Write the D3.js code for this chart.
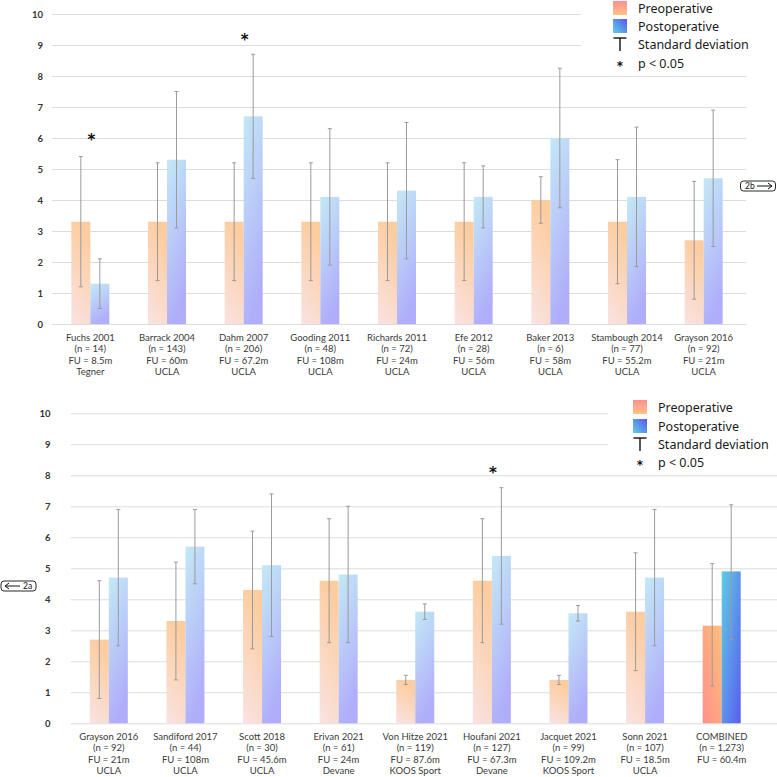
<!DOCTYPE html>
<html>
<head>
<meta charset="utf-8">
<script src="https://cdn.jsdelivr.net/npm/d3@7"></script>
<style>
  body { margin: 0; background: #fff; }
  svg { display: block; }
</style>
</head>
<body>
<div id="chart"></div>
<script>
// ---- panel 2a (top) ----
var topStudy = ["Fuchs 2001", "Barrack 2004", "Dahm 2007", "Gooding 2011", "Richards 2011",
    "Efe 2012", "Baker 2013", "Stambough 2014", "Grayson 2016"];
var topN = ["(n = 14)", "(n = 143)", "(n = 206)", "(n = 48)", "(n = 72)", "(n = 28)", "(n = 6)", "(n = 77)", "(n = 92)"];
var topFU = ["FU = 8.5m", "FU = 60m", "FU = 67.2m", "FU =  108m", "FU = 24m", "FU = 56m", "FU = 58m", "FU = 55.2m", "FU = 21m"];
var topScale = ["Tegner", "UCLA", "UCLA", "UCLA", "UCLA", "UCLA", "UCLA", "UCLA", "UCLA"];
var topPre = [3.3, 3.3, 3.3, 3.3, 3.3, 3.3, 4.0, 3.3, 2.7];
var topPreLo = [1.2, 1.4, 1.4, 1.4, 1.4, 1.4, 3.25, 1.3, 0.8];
var topPreHi = [5.4, 5.2, 5.2, 5.2, 5.2, 5.2, 4.75, 5.3, 4.6];
var topPost = [1.3, 5.3, 6.7, 4.1, 4.3, 4.1, 6.0, 4.1, 4.7];
var topPostLo = [0.5, 3.1, 4.7, 1.9, 2.1, 3.1, 3.75, 1.85, 2.5];
var topPostHi = [2.1, 7.5, 8.7, 6.3, 6.5, 5.1, 8.25, 6.35, 6.9];
var topStarStudy = ["Fuchs 2001", "Dahm 2007"];
var topStarY = [6.07, 9.3];

// ---- panel 2b (bottom) ----
var botStudy = ["Grayson 2016", "Sandiford 2017", "Scott 2018", "Erivan 2021", "Von Hitze 2021",
    "Houfani 2021", "Jacquet 2021", "Sonn 2021", "COMBINED"];
var botN = ["(n = 92)", "(n = 44)", "(n = 30)", "(n = 61)", "(n = 119)", "(n = 127)", "(n = 99)", "(n = 107)", "(n = 1,273)"];
var botFU = ["FU = 21m", "FU = 108m", "FU = 45.6m", "FU = 24m", "FU = 87.6m", "FU = 67.3m", "FU = 109.2m", "FU = 18.5m", "FU = 60.4m"];
var botScale = ["UCLA", "UCLA", "UCLA", "Devane", "KOOS Sport", "Devane", "KOOS Sport", "UCLA", ""];
var botPre = [2.7, 3.3, 4.3, 4.6, 1.4, 4.6, 1.4, 3.6, 3.15];
var botPreLo = [0.8, 1.4, 2.4, 2.6, 1.25, 2.6, 1.25, 1.7, 1.2];
var botPreHi = [4.6, 5.2, 6.2, 6.6, 1.55, 6.6, 1.55, 5.5, 5.15];
var botPost = [4.7, 5.7, 5.1, 4.8, 3.6, 5.4, 3.55, 4.7, 4.9];
var botPostLo = [2.5, 4.5, 2.8, 2.6, 3.35, 3.2, 3.3, 2.5, 2.7];
var botPostHi = [6.9, 6.9, 7.4, 7.0, 3.85, 7.6, 3.8, 6.9, 7.05];
var botStarStudy = ["Houfani 2021"];
var botStarY = [8.2];

var legendLabels = ["Preoperative", "Postoperative", "Standard deviation", "p < 0.05"];
var yTicks = [0, 1, 2, 3, 4, 5, 6, 7, 8, 9, 10];

var svg = d3.select("#chart")
    .append("svg")
    .attr("width", 777)
    .attr("height", 777);

var defs = svg.append("defs");

// gradient helper
function grad(id, x1, y1, x2, y2, c1, c2) {
    var lg = defs.append("linearGradient")
        .attr("id", id)
        .attr("x1", x1).attr("y1", y1)
        .attr("x2", x2).attr("y2", y2);
    lg.append("stop").attr("offset", "0%").attr("stop-color", c1);
    lg.append("stop").attr("offset", "100%").attr("stop-color", c2);
}
grad("preLight", 0, 1, 0.3, 0, "#f9e3e3", "#fdcda0");
grad("postLight", 0.3, 1, 0, 0, "#b0aefa", "#c3e9f6");
grad("preSolid", 0, 1, 1, 0, "#ff8f8a", "#ffc07a");
grad("postSolid", 1, 1, 0, 0, "#5a5cf0", "#5ecde6");
grad("preKey", 0, 0, 0, 1, "#ff8e92", "#ffc487");
grad("postKey", 1, 0, 0, 1, "#5854f0", "#5fd2e6");

function drawPanel(p) {
    var y = d3.scaleLinear().domain([0, 10]).range([p.yBottom, p.yTop]);
    var x0 = d3.scaleBand().domain(p.study).range([p.xLeft, p.xRight]);
    var half = x0.bandwidth() / 2;
    var x1 = d3.scaleBand().domain(["pre", "post"]).range([half - 19, half + 19]);

    var g = svg.append("g");

    // gridlines
    g.selectAll(".grid")
        .data(yTicks)
        .enter()
        .append("line")
        .attr("x1", p.xLeft)
        .attr("x2", p.gridRight)
        .attr("y1", d => y(d) + 0.5)
        .attr("y2", d => y(d) + 0.5)
        .attr("stroke", "#dcdcdc")
        .attr("stroke-width", 1);

    // y axis labels
    var leftAxis = d3.axisLeft(y).tickValues(yTicks).tickSize(0).tickPadding(p.tickPad);
    var yAxis = g.append("g")
        .attr("transform", `translate(${p.xLeft}, 0)`)
        .call(leftAxis);
    yAxis.select(".domain").remove();
    yAxis.selectAll("text")
        .attr("font-family", "Lato, sans-serif")
        .attr("font-weight", "bold")
        .attr("font-size", 9.5)
        .attr("fill", "#333");

    var rows = p.study.map((s, i) => ({
        study: s,
        bars: [
            { key: "pre", v: p.pre[i], lo: p.preLo[i], hi: p.preHi[i], solid: s === "COMBINED" },
            { key: "post", v: p.post[i], lo: p.postLo[i], hi: p.postHi[i], solid: s === "COMBINED" }
        ]
    }));

    var groups = g.selectAll(".study")
        .data(rows)
        .enter()
        .append("g")
        .attr("transform", d => `translate(${x0(d.study)}, 0)`);

    groups.selectAll("rect")
        .data(d => d.bars)
        .enter()
        .append("rect")
        .attr("x", d => x1(d.key))
        .attr("width", x1.bandwidth())
        .attr("y", d => y(d.v))
        .attr("height", d => y(0) - y(d.v))
        .attr("fill", d => "url(#" + d.key + (d.solid ? "Solid" : "Light") + ")");

    // standard deviation whiskers
    var err = groups.selectAll(".err")
        .data(d => d.bars)
        .enter()
        .append("g")
        .attr("stroke", "#9a9a9a")
        .attr("stroke-width", 1);
    var cx = d => x1(d.key) + x1.bandwidth() / 2;
    err.append("line")
        .attr("x1", cx).attr("x2", cx)
        .attr("y1", d => y(d.hi)).attr("y2", d => y(d.lo));
    err.append("line")
        .attr("x1", d => cx(d) - 2).attr("x2", d => cx(d) + 2)
        .attr("y1", d => y(d.hi)).attr("y2", d => y(d.hi));
    err.append("line")
        .attr("x1", d => cx(d) - 2).attr("x2", d => cx(d) + 2)
        .attr("y1", d => y(d.lo)).attr("y2", d => y(d.lo));

    // significance stars
    g.selectAll(".star")
        .data(p.starStudy)
        .enter()
        .append("text")
        .attr("x", (d, i) => x0(d) + half + 1)
        .attr("y", (d, i) => y(p.starY[i]) + 9)
        .attr("text-anchor", "middle")
        .attr("font-family", "DejaVu Sans, sans-serif")
        .attr("font-weight", "bold")
        .attr("font-size", 15)
        .attr("fill", "#111")
        .text("*");

    // x category labels
    var lab = g.selectAll(".xlab")
        .data(p.study)
        .enter()
        .append("text")
        .attr("x", d => x0(d) + half)
        .attr("text-anchor", "middle")
        .attr("font-family", "Lato, sans-serif")
        .attr("font-size", 9.5)
        .attr("fill", "#3a3a3a");
    [p.study, p.n, p.fu, p.scale].forEach((arr, k) => {
        lab.append("tspan")
            .attr("x", d => x0(d) + half)
            .attr("y", p.labelY[k])
            .text((d, i) => arr[i]);
    });

    // legend (white backing hides grid)
    var leg = g.append("g");
    leg.append("rect")
        .attr("x", p.legMaskX).attr("y", p.legMaskY)
        .attr("width", 777 - p.legMaskX).attr("height", p.legMaskH)
        .attr("fill", "#fff");
    var sx = p.legX, tx = p.legTextX, ly = p.legY;
    leg.append("rect").attr("x", sx).attr("y", ly[0] - 7).attr("width", 14).attr("height", 14).attr("fill", "url(#preKey)");
    leg.append("rect").attr("x", sx).attr("y", ly[1] - 7).attr("width", 14).attr("height", 14).attr("fill", "url(#postKey)");
    leg.append("line").attr("x1", sx + 0.5).attr("x2", sx + 13.5).attr("y1", ly[2] - 6).attr("y2", ly[2] - 6)
        .attr("stroke", "#111").attr("stroke-width", 1.4);
    leg.append("line").attr("x1", sx + 7).attr("x2", sx + 7).attr("y1", ly[2] - 6).attr("y2", ly[2] + 7)
        .attr("stroke", "#111").attr("stroke-width", 1.4);
    leg.append("text").attr("x", sx + 7).attr("y", ly[3] + 7)
        .attr("text-anchor", "middle")
        .attr("font-family", "DejaVu Sans, sans-serif").attr("font-weight", "bold")
        .attr("font-size", 12).attr("fill", "#111").text("*");
    leg.selectAll(".ltxt")
        .data(legendLabels)
        .enter()
        .append("text")
        .attr("x", tx)
        .attr("y", (d, i) => ly[i] + 4.5)
        .attr("font-family", "Noto Sans, sans-serif")
        .attr("font-size", 12.5)
        .attr("fill", "#1a1a1a")
        .text(d => d);

    // panel cross-reference tag
    var tag = svg.append("g");
    tag.append("rect")
        .attr("x", p.tag.x).attr("y", p.tag.y)
        .attr("width", 35).attr("height", 10).attr("rx", 3)
        .attr("fill", "#fff").attr("stroke", "#111").attr("stroke-width", 0.9);
    var ay = p.tag.y + 5;
    var ax1 = p.tag.arrowX1, ax2 = p.tag.arrowX2, dir = ax2 > ax1 ? 1 : -1;
    tag.append("line").attr("x1", ax1).attr("x2", ax2).attr("y1", ay).attr("y2", ay)
        .attr("stroke", "#111").attr("stroke-width", 1);
    tag.append("path")
        .attr("d", `M${ax2 - dir * 4},${ay - 3} L${ax2},${ay} L${ax2 - dir * 4},${ay + 3}`)
        .attr("fill", "none").attr("stroke", "#111").attr("stroke-width", 1);
    tag.append("text")
        .attr("x", p.tag.textX).attr("y", ay + 3)
        .attr("font-family", "Lato, sans-serif").attr("font-size", 8.5).attr("fill", "#111")
        .text(p.tag.label);
}

drawPanel({
    study: topStudy, n: topN, fu: topFU, scale: topScale,
    pre: topPre, preLo: topPreLo, preHi: topPreHi,
    post: topPost, postLo: topPostLo, postHi: topPostHi,
    starStudy: topStarStudy, starY: topStarY,
    yBottom: 324, yTop: 14, xLeft: 52, xRight: 742, gridRight: 746, tickPad: 9,
    labelY: [340.5, 352, 363.5, 375],
    legX: 613, legTextX: 638, legY: [8, 26, 44, 63], legMaskX: 581, legMaskY: 0, legMaskH: 70,
    tag: { x: 740.5, y: 181, label: "2b", textX: 745, arrowX1: 757, arrowX2: 772 }
});

drawPanel({
    study: botStudy, n: botN, fu: botFU, scale: botScale,
    pre: botPre, preLo: botPreLo, preHi: botPreHi,
    post: botPost, postLo: botPostLo, postHi: botPostHi,
    starStudy: botStarStudy, starY: botStarY,
    yBottom: 723.3, yTop: 413.3, xLeft: 70.5, xRight: 760, gridRight: 777, tickPad: 20,
    labelY: [739.5, 751, 762.5, 774],
    legX: 633, legTextX: 658, legY: [407, 426, 444, 462], legMaskX: 608, legMaskY: 395, legMaskH: 74,
    tag: { x: 1, y: 581, label: "2a", textX: 23, arrowX1: 20, arrowX2: 5 }
});
</script>
</body>
</html>
